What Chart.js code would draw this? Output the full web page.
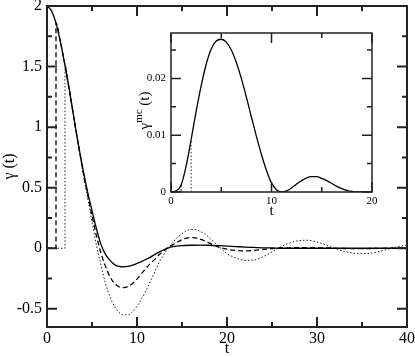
<!DOCTYPE html>
<html>
<head>
<meta charset="utf-8">
<script src="https://cdn.jsdelivr.net/npm/chart.js@4.4.1/dist/chart.umd.min.js"></script>
<style>
  html, body { margin: 0; padding: 0; background: #fff; }
  #wrap { position: relative; width: 415px; height: 357px; }
  #mainChart { position: absolute; left: 0; top: 0; }
  #insetChart { position: absolute; left: 128px; top: 24px; }
</style>
</head>
<body>
<div id="wrap">
  <canvas id="mainChart" width="415" height="357"></canvas>
  <canvas id="insetChart" width="252" height="196"></canvas>
</div>
<script>
// ==========================
// DATA (main plot: gamma(t))
// ==========================
const tSolid = [0,0.5,1,1.5,2,2.5,3,3.5,4,4.5,5,5.5,6,6.5,7,7.5,8,8.5,9,9.5,10,10.5,11,11.5,12,12.5,13,13.5,14,
  15,16,17,18,19,20,21,22,23,24,25,26,28,30,32,34,36,38,40];
const gammaSolid = [2.0,1.96,1.86,1.70,1.51,1.30,1.07,0.85,0.65,0.47,0.31,0.16,0.03,-0.05,-0.10,-0.135,-0.15,-0.154,-0.15,-0.14,
  -0.125,-0.11,-0.092,-0.073,-0.05,-0.03,-0.012,0.004,0.014,
  0.022,0.025,0.026,0.025,0.022,0.018,0.014,0.01,0.007,0.004,0.002,0,0,0,0,0,0,0,0];

const tDashed = [0,1,1,1.5,2,2.5,3,3.5,4,4.5,5,5.5,6,6.5,7,7.5,8,8.5,9,9.5,10,10.5,11,11.5,12,12.5,13,13.5,14,14.5,
  15,15.5,16,16.5,17,17.5,18,19,20,21,22,23,24,25,26,27,28,29,30,31,32,33,34,35,36,37,38,40];
const gammaDashed = [0,0,1.86,1.70,1.51,1.30,1.07,0.85,0.64,0.45,0.27,0.10,-0.04,-0.15,-0.235,-0.29,-0.318,-0.325,-0.315,-0.29,
  -0.255,-0.21,-0.165,-0.125,-0.09,-0.05,-0.02,0.01,0.03,0.052,0.07,0.083,0.088,0.085,0.075,0.062,0.045,
  0.012,-0.008,-0.018,-0.022,-0.018,-0.01,-0.003,0.002,0.004,0.005,0.005,0.004,0.002,0,-0.002,-0.003,-0.003,-0.002,-0.001,0,0];

const tDotted = [0,2,2,2.5,3,3.5,4,4.5,5,5.5,6,6.5,7,7.5,8,8.5,9,9.5,10,10.5,11,11.5,12,12.5,13,13.5,14,14.5,
  15,15.5,16,16.5,17,17.5,18,18.5,19,19.5,20,21,22,23,24,25,26,27,28,29,30,31,32,33,34,35,36,37,38,39,40];
const gammaDotted = [0,0,1.51,1.30,1.07,0.84,0.62,0.42,0.22,0.02,-0.14,-0.29,-0.40,-0.48,-0.53,-0.55,-0.55,-0.525,
  -0.48,-0.42,-0.35,-0.27,-0.19,-0.11,-0.05,0.005,0.05,0.09,0.12,0.145,0.155,0.155,0.14,0.12,0.09,0.055,0.02,-0.012,
  -0.045,-0.08,-0.1,-0.097,-0.07,-0.03,0.012,0.045,0.063,0.066,0.052,0.026,-0.002,-0.025,-0.04,-0.045,-0.04,-0.025,-0.005,0.012,0.025];

const xTicks = [0, 10, 20, 30, 40];
const xMinor = [5, 15, 25, 35];
const yTicks = [-0.5, 0, 0.5, 1, 1.5, 2];
const yMinor = [-0.25, 0.25, 0.75, 1.25, 1.75];

// ==========================
// DATA (inset: gamma^mc(t))
// ==========================
const tInset = [0,0.5,1,1.5,2,2.5,3,3.5,4,4.5,5,5.5,6,6.5,7,7.5,8,8.5,9,9.5,10,10.5,11,11.5,12,12.5,13,13.5,14,14.5,
  15,15.5,16,16.5,17,17.5,18,18.5,19,19.5,20];
const gammaMc = [0,0.0002,0.0012,0.0045,0.0092,0.0142,0.0187,0.0225,0.0252,0.0266,
  0.0269,0.0264,0.025,0.0228,0.02,0.0167,0.0132,0.0098,0.0066,0.0038,
  0.0016,0.0004,0,0.0002,0.0007,0.0014,0.002,0.0025,0.0027,0.0027,
  0.0024,0.002,0.0015,0.001,0.0006,0.0003,0.0001,0,0,0,0];
const tMcDashed = [1, 1];
const gammaMcDashed = [0, 0.0012];
const tMcDotted = [2, 2];
const gammaMcDotted = [0, 0.0092];

const xTicksInset = [0, 10, 20];
const xMinorInset = [5, 15];
const yTicksInset = [0, 0.01, 0.02];
const yMinorInset = [0.005, 0.015, 0.025];

// ==========================
// HELPER
// ==========================
const pts = (xs, ys) => xs.map((x, i) => ({ x, y: ys[i] }));
const serif = "'Liberation Serif', 'DejaVu Serif', serif";
Chart.defaults.font.family = serif;
Chart.defaults.color = "#000";

function fixWidth(w) {
  return s => { s.width = w; s.paddingTop = 0; s.paddingBottom = 0; };
}
function fixHeight(h) {
  return s => { s.height = h; s.paddingLeft = 0; s.paddingRight = 0; };
}
function useTicks(list) {
  return s => { s.ticks = list.map(v => ({ value: v })); };
}

function line(data, dash, width, color) {
  return {
    data,
    borderColor: color || "#000",
    borderWidth: width,
    borderDash: dash,
    pointRadius: 0,
    fill: false,
    cubicInterpolationMode: "monotone",
  };
}

// ticks inward on all four sides + frame
const inwardTicks = {
  id: "inwardTicks",
  afterDraw(chart, args, opts) {
    const { ctx, chartArea: a, scales: { x, y } } = chart;
    ctx.save();
    ctx.strokeStyle = "#222";
    ctx.lineWidth = opts.width || 1.5;
    ctx.beginPath();
    const xMark = (v, len) => {
      const px = x.getPixelForValue(v);
      ctx.moveTo(px, a.bottom); ctx.lineTo(px, a.bottom - len);
      ctx.moveTo(px, a.top); ctx.lineTo(px, a.top + len);
    };
    const yMark = (v, len) => {
      const py = y.getPixelForValue(v);
      ctx.moveTo(a.left, py); ctx.lineTo(a.left + len, py);
      ctx.moveTo(a.right, py); ctx.lineTo(a.right - len, py);
    };
    opts.xMajor.forEach(v => xMark(v, 10));
    opts.xMinor.forEach(v => xMark(v, 5));
    opts.yMajor.forEach(v => yMark(v, 10));
    opts.yMinor.forEach(v => yMark(v, 5));
    ctx.stroke();
    ctx.strokeRect(a.left, a.top, a.right - a.left, a.bottom - a.top);
    ctx.restore();
  }
};

// gamma^mc (t) rotated title with superscript
const mcTitle = {
  id: "mcTitle",
  afterDraw(chart) {
    const { ctx, chartArea: a } = chart;
    const big = "15px " + serif, small = "11px " + serif;
    ctx.save();
    ctx.translate(17, (a.top + a.bottom) / 2 - 2);
    ctx.rotate(-Math.PI / 2);
    ctx.fillStyle = "#000";
    ctx.textBaseline = "middle";
    ctx.textAlign = "left";
    ctx.font = big;
    const w1 = ctx.measureText("γ").width;
    const w3 = ctx.measureText(" (t)").width;
    ctx.font = small;
    const w2 = ctx.measureText("mc").width;
    let xx = -(w1 + w2 + w3) / 2;
    ctx.font = big; ctx.fillText("γ", xx, 0); xx += w1;
    ctx.font = small; ctx.fillText("mc", xx, -6); xx += w2;
    ctx.font = big; ctx.fillText(" (t)", xx, 0);
    ctx.restore();
  }
};

// ==========================
// MAIN CHART
// ==========================
new Chart(document.getElementById("mainChart"), {
  type: "line",
  data: {
    datasets: [
      line(pts(tSolid, gammaSolid), [], 1.3),
      line(pts(tDashed, gammaDashed), [5, 3], 1.3),
      line(pts(tDotted, gammaDotted), [1.5, 2], 1, "#222"),
    ]
  },
  options: {
    responsive: false,
    animation: false,
    devicePixelRatio: 1,
    layout: { padding: { top: 6, right: 8, left: 0, bottom: 0 } },
    plugins: {
      legend: { display: false },
      tooltip: { enabled: false },
      inwardTicks: { xMajor: xTicks, xMinor, yMajor: yTicks, yMinor, width: 2 },
    },
    scales: {
      x: {
        type: "linear", min: 0, max: 40,
        grid: { display: false, drawTicks: false },
        border: { display: false },
        afterBuildTicks: useTicks(xTicks),
        afterFit: fixHeight(30),
        ticks: { font: { size: 16 }, padding: 2, callback: v => String(v) },
        title: { display: true, text: "t", font: { size: 16, lineHeight: 1 }, padding: 0 },
      },
      y: {
        type: "linear", min: -0.65, max: 2,
        grid: { display: false, drawTicks: false },
        border: { display: false },
        afterBuildTicks: useTicks(yTicks),
        afterFit: fixWidth(47),
        ticks: { font: { size: 16 }, padding: 5, callback: v => String(v) },
        title: { display: true, text: "γ (t)", font: { size: 16, lineHeight: 1.2 }, padding: { top: 0, bottom: 0 } },
      }
    }
  },
  plugins: [inwardTicks]
});

// ==========================
// INSET CHART
// ==========================
new Chart(document.getElementById("insetChart"), {
  type: "line",
  data: {
    datasets: [
      line(pts(tInset, gammaMc), [], 1.3),
      line(pts(tMcDashed, gammaMcDashed), [3, 2], 1),
      line(pts(tMcDotted, gammaMcDotted), [1.5, 2], 1, "#222"),
    ]
  },
  options: {
    responsive: false,
    animation: false,
    devicePixelRatio: 1,
    layout: { padding: { top: 9, right: 8, left: 0, bottom: 0 } },
    plugins: {
      legend: { display: false },
      tooltip: { enabled: false },
      inwardTicks: { xMajor: xTicksInset, xMinor: xMinorInset, yMajor: yTicksInset, yMinor: yMinorInset, width: 1.5 },
    },
    scales: {
      x: {
        type: "linear", min: 0, max: 20,
        grid: { display: false, drawTicks: false },
        border: { display: false },
        afterBuildTicks: useTicks(xTicksInset),
        afterFit: fixHeight(28),
        ticks: { font: { size: 11 }, padding: 3, callback: v => String(v) },
        title: { display: true, text: "t", font: { size: 15, lineHeight: 1 }, padding: { top: 0, bottom: 1 } },
      },
      y: {
        type: "linear", min: 0, max: 0.028,
        grid: { display: false, drawTicks: false },
        border: { display: false },
        afterBuildTicks: useTicks(yTicksInset),
        afterFit: fixWidth(43),
        ticks: { font: { size: 11 }, padding: 5, callback: v => String(v) },
      }
    }
  },
  plugins: [inwardTicks, mcTitle]
});
</script>
</body>
</html>
